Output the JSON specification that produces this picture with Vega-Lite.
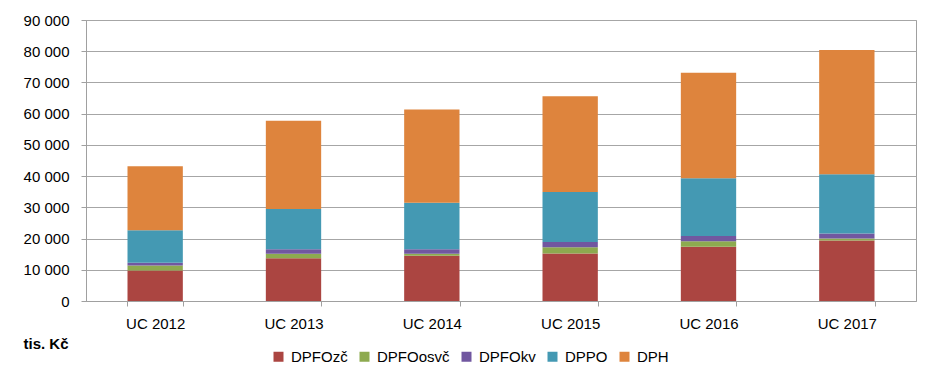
{
  "$schema": "https://vega.github.io/schema/vega-lite/v6.json",
  "width": 830,
  "height": 281,
  "autosize": "none",
  "padding": {"left": 86, "top": 20, "right": 29, "bottom": 83},
  "background": "white",
  "data": {
    "values": [
      {"rok": "UC 2012", "dan": "DPFOzč", "k": 1, "v": 9800},
      {"rok": "UC 2012", "dan": "DPFOosvč", "k": 2, "v": 1600},
      {"rok": "UC 2012", "dan": "DPFOkv", "k": 3, "v": 850},
      {"rok": "UC 2012", "dan": "DPPO", "k": 4, "v": 10400},
      {"rok": "UC 2012", "dan": "DPH", "k": 5, "v": 20500},
      {"rok": "UC 2013", "dan": "DPFOzč", "k": 1, "v": 13700},
      {"rok": "UC 2013", "dan": "DPFOosvč", "k": 2, "v": 1400},
      {"rok": "UC 2013", "dan": "DPFOkv", "k": 3, "v": 1500},
      {"rok": "UC 2013", "dan": "DPPO", "k": 4, "v": 12900},
      {"rok": "UC 2013", "dan": "DPH", "k": 5, "v": 28200},
      {"rok": "UC 2014", "dan": "DPFOzč", "k": 1, "v": 14500},
      {"rok": "UC 2014", "dan": "DPFOosvč", "k": 2, "v": 600},
      {"rok": "UC 2014", "dan": "DPFOkv", "k": 3, "v": 1500},
      {"rok": "UC 2014", "dan": "DPPO", "k": 4, "v": 14900},
      {"rok": "UC 2014", "dan": "DPH", "k": 5, "v": 29800},
      {"rok": "UC 2015", "dan": "DPFOzč", "k": 1, "v": 15200},
      {"rok": "UC 2015", "dan": "DPFOosvč", "k": 2, "v": 2000},
      {"rok": "UC 2015", "dan": "DPFOkv", "k": 3, "v": 1700},
      {"rok": "UC 2015", "dan": "DPPO", "k": 4, "v": 16000},
      {"rok": "UC 2015", "dan": "DPH", "k": 5, "v": 30700},
      {"rok": "UC 2016", "dan": "DPFOzč", "k": 1, "v": 17400},
      {"rok": "UC 2016", "dan": "DPFOosvč", "k": 2, "v": 1700},
      {"rok": "UC 2016", "dan": "DPFOkv", "k": 3, "v": 1700},
      {"rok": "UC 2016", "dan": "DPPO", "k": 4, "v": 18500},
      {"rok": "UC 2016", "dan": "DPH", "k": 5, "v": 33800},
      {"rok": "UC 2017", "dan": "DPFOzč", "k": 1, "v": 19400},
      {"rok": "UC 2017", "dan": "DPFOosvč", "k": 2, "v": 600},
      {"rok": "UC 2017", "dan": "DPFOkv", "k": 3, "v": 1600},
      {"rok": "UC 2017", "dan": "DPPO", "k": 4, "v": 19000},
      {"rok": "UC 2017", "dan": "DPH", "k": 5, "v": 39800}
    ]
  },
  "mark": {"type": "bar"},
  "encoding": {
    "x": {
      "field": "rok",
      "type": "nominal",
      "sort": null,
      "scale": {"paddingInner": 0.6, "paddingOuter": 0.3},
      "axis": {
        "title": null,
        "labelAngle": 0,
        "tickBand": "extent",
        "tickSize": 5,
        "labelPadding": 10,
        "domainColor": "#a0a0a0",
        "tickColor": "#a0a0a0"
      }
    },
    "y": {
      "field": "v",
      "type": "quantitative",
      "stack": "zero",
      "scale": {"domain": [0, 90000], "nice": false},
      "axis": {
        "values": [0, 10000, 20000, 30000, 40000, 50000, 60000, 70000, 80000, 90000],
        "format": ",d",
        "title": "tis. Kč",
        "titleAngle": 0,
        "titleX": -63,
        "titleY": 323,
        "titleAlign": "left",
        "titleBaseline": "middle",
        "titleFontWeight": "bold",
        "titleFontSize": 15,
        "titleColor": "#000000",
        "tickSize": 5,
        "labelPadding": 12,
        "grid": true,
        "gridColor": "#a6a6a6",
        "domainColor": "#a0a0a0",
        "tickColor": "#a0a0a0"
      }
    },
    "color": {
      "field": "dan",
      "type": "nominal",
      "scale": {
        "domain": ["DPFOzč", "DPFOosvč", "DPFOkv", "DPPO", "DPH"],
        "range": ["#AB4541", "#8DAA4F", "#7157A0", "#4499B3", "#DE843D"]
      },
      "legend": {
        "title": null,
        "orient": "none",
        "direction": "horizontal",
        "legendX": 185,
        "legendY": 329,
        "symbolType": "square",
        "symbolSize": 100,
        "symbolStrokeWidth": 0,
        "labelFontSize": 15,
        "labelColor": "#000000",
        "labelOffset": 5,
        "columnPadding": 9
      }
    },
    "order": {"field": "k", "type": "quantitative"}
  },
  "config": {
    "font": "Liberation Sans",
    "locale": {"number": {"decimal": ",", "thousands": " ", "grouping": [3], "currency": ["", " Kč"]}},
    "axis": {"labelFontSize": 15, "labelColor": "#000000", "labelFont": "Liberation Sans"},
    "legend": {"labelFont": "Liberation Sans"},
    "view": {"stroke": "#a0a0a0", "strokeWidth": 1}
  }
}
